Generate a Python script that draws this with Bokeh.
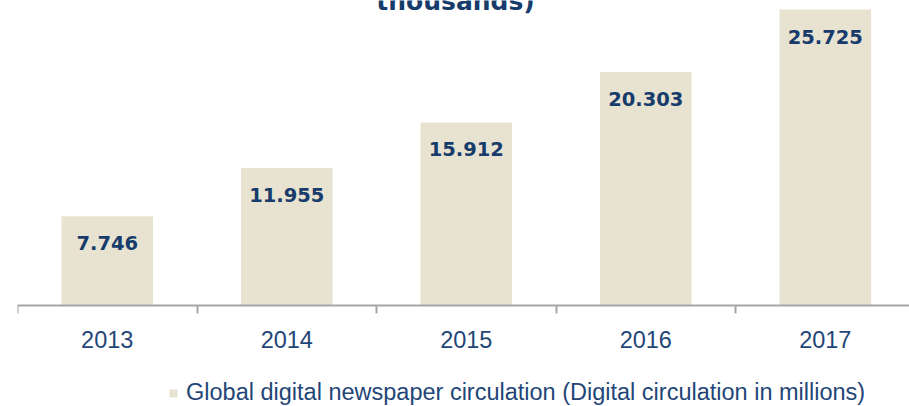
from bokeh.plotting import figure
from bokeh.models import Range1d, FixedTicker, Legend, LegendItem, ColumnDataSource
from bokeh.core.properties import value
from bokeh.embed import file_html
from bokeh.resources import INLINE

# ---- data ----
years = ["2013", "2014", "2015", "2016", "2017"]
circulation = [7.746, 11.955, 15.912, 20.303, 25.725]
series_name = "Global digital newspaper circulation (Digital circulation in millions)"
title_fragment = "thousands)"

# ---- styles ----
BAR = "#E8E3D1"
NAVY = "#173C6B"
NAVY2 = "#1F4677"
AXIS = "#A6A6A6"

centers = [i + 0.5 for i in range(len(years))]
bounds = [i for i in range(len(years) + 1)]
labels = [f"{v:.3f}" for v in circulation]

src = ColumnDataSource(dict(x=centers, top=circulation, label=labels))

p = figure(width=909, height=406, output_backend="svg", toolbar_location=None,
           x_range=Range1d(0, 4.969), y_range=Range1d(-8.78, 26.51),
           min_border_left=17, min_border_right=0, min_border_top=0, min_border_bottom=0)
p.outline_line_color = None
p.xgrid.visible = False
p.ygrid.visible = False
p.yaxis.visible = False
p.background_fill_color = "white"
p.border_fill_color = "white"

r = p.vbar(x="x", top="top", width=0.51, bottom=0, source=src,
           fill_color=BAR, line_color=None)

p.text(x="x", y="top", text="label", source=src, text_align="center",
       text_baseline="middle", y_offset=27, text_color=NAVY,
       text_font=value("DejaVu Sans"), text_font_style="bold",
       text_font_size="19.5px")

# chart title fragment, cut at the top edge as in the original
p.text(x=[2.44], y=[26.51], text=[title_fragment], text_align="center",
       text_baseline="alphabetic", y_offset=1, text_color=NAVY,
       text_font=value("DejaVu Sans"), text_font_style="bold",
       text_font_size="25px")

ax = p.xaxis[0]
ax.fixed_location = 0
ax.ticker = FixedTicker(ticks=centers, minor_ticks=bounds)
ax.major_label_overrides = {c: y for c, y in zip(centers, years)}
ax.major_tick_out = 0
ax.major_tick_in = 0
ax.minor_tick_out = 8
ax.minor_tick_in = 0
ax.minor_tick_line_color = AXIS
ax.minor_tick_line_width = 2
ax.axis_line_color = AXIS
ax.axis_line_width = 2
ax.major_label_text_font = "Liberation Sans"
ax.major_label_text_font_size = "23.5px"
ax.major_label_text_color = NAVY2
ax.major_label_standoff = 18

legend = Legend(items=[LegendItem(label=series_name, renderers=[r])],
                location=(151, 0), orientation="horizontal",
                glyph_width=10, glyph_height=10, label_standoff=8,
                padding=0, margin=0, border_line_color=None,
                background_fill_alpha=0,
                label_text_font="Liberation Sans", label_text_font_size="23.5px",
                label_text_color=NAVY2)
p.add_layout(legend, "center")

open("out.html", "w").write(file_html(p, INLINE))
